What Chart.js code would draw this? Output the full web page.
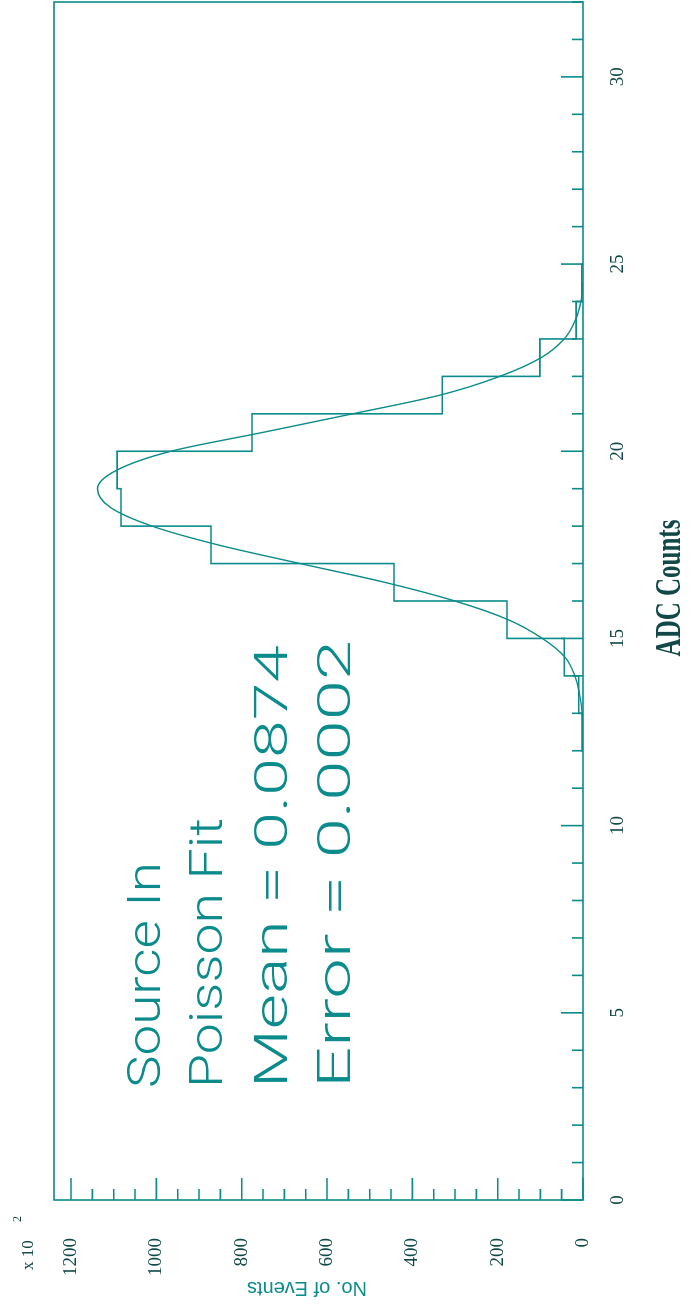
<!DOCTYPE html>
<html>
<head>
<meta charset="utf-8">
<script src="https://cdn.jsdelivr.net/npm/chart.js@4"></script>
<style>
html, body { margin: 0; padding: 0; background: #fff; width: 691px; height: 1310px; overflow: hidden; }
/* the chart is drawn lying on its side, as in the scan */
#wrap { position: absolute; left: 0; top: 0; width: 1310px; height: 691px;
        transform-origin: 0 0; transform: translate(0, 1310px) rotate(-90deg); }
</style>
</head>
<body>
<div id="wrap"><canvas id="myChart" width="1310" height="691"></canvas></div>
<script>
// histogram: left bin edges (last value closes the last bin) and counts
var binEdges = [12, 13, 14, 15, 16, 17, 18, 19, 20, 21, 22, 23, 24, 25];
var binCounts = [2, 10, 44, 178, 443, 872, 1083, 1092, 776, 330, 101, 16, 3];

// fitted curve
var fitX = [12.5, 13, 13.5, 14, 14.5, 15, 15.5, 16, 16.5, 17, 17.5, 18, 18.5, 19, 19.5, 20, 20.5, 21, 21.5, 22, 22.5, 23, 23.5, 24, 24.5];
var fitY = [0, 2, 8, 19, 42, 95, 175, 300, 465, 663, 856, 1010, 1108, 1138, 1092, 966, 752, 540, 335, 195, 98, 44, 18, 5, 1];

var xTickLabels = ['0', '5', '10', '15', '20', '25', '30'];
var yTickLabels = ['0', '200', '400', '600', '800', '1000', '1200'];
var notes = ['Source In', 'Poisson Fit', 'Mean = 0.0874', 'Error = 0.0002'];

var ink = '#0b8b8b';
var dark = '#124848';

var histPts = [{x: binEdges[0], y: 0}];
for (var i = 0; i < binCounts.length; i++) {
    histPts.push({x: binEdges[i], y: binCounts[i]});
}
histPts.push({x: binEdges[binEdges.length - 1], y: 0});

var fitPts = [];
for (var j = 0; j < fitX.length; j++) {
    fitPts.push({x: fitX[j], y: fitY[j]});
}

// frame, inward ticks and the loose texts
var extras = {
    id: 'extras',
    afterDraw: function(chart) {
        var c = chart.ctx, a = chart.chartArea;
        var xs = chart.scales.x, ys = chart.scales.y;
        c.save();
        c.strokeStyle = ink;
        c.lineWidth = 1.6;
        c.strokeRect(a.left, a.top, a.right - a.left, a.bottom - a.top);
        c.beginPath();
        xs.ticks.forEach(function(t) {
            var px = xs.getPixelForValue(t.value);
            var len = (t.value % 5 === 0) ? 22 : 11;
            c.moveTo(px, a.bottom);
            c.lineTo(px, a.bottom - len);
        });
        ys.ticks.forEach(function(t) {
            var py = ys.getPixelForValue(t.value);
            var len = (t.value % 200 === 0) ? 22 : 11;
            c.moveTo(a.left, py);
            c.lineTo(a.left + len, py);
        });
        c.stroke();

        // notes
        c.fillStyle = ink;
        c.font = '300 46px Roboto, Lato, sans-serif';
        c.textBaseline = 'alphabetic';
        var base = [160, 222, 287, 350];
        var wide = [226, 270, 443, 448];
        notes.forEach(function(s, k) {
            c.save();
            c.translate(222, base[k]);
            c.scale(wide[k] / c.measureText(s).width, 1);
            c.fillText(s, 0, 0);
            c.restore();
        });

        // axis titles
        c.fillStyle = dark;
        c.font = 'bold 25px "Liberation Serif"';
        c.textAlign = 'center';
        c.save();
        c.translate(722, 680);
        c.scale(1, 1.45);
        c.fillText('ADC Counts', 0, 0);
        c.restore();

        c.fillStyle = ink;
        c.font = '20px "Liberation Sans"';
        c.textBaseline = 'middle';
        c.save();
        c.translate(22, 307);
        c.rotate(-Math.PI / 2);
        c.fillText('No. of Events', 0, 0);
        c.restore();

        // multiplier
        c.fillStyle = dark;
        c.textAlign = 'left';
        c.textBaseline = 'alphabetic';
        c.font = '17px "Liberation Serif"';
        c.fillText('x 10', 40, 33);
        c.font = '12px "Liberation Serif"';
        c.fillText('2', 88, 21);
        c.restore();
    }
};

var ctx = document.getElementById('myChart').getContext('2d');
var myChart = new Chart(ctx, {
    type: 'line',
    data: {
        datasets: [{
            label: 'counts',
            data: histPts,
            stepped: 'before',
            borderColor: ink,
            borderWidth: 1.6,
            pointRadius: 0,
            fill: false
        }, {
            label: 'fit',
            data: fitPts,
            cubicInterpolationMode: 'monotone',
            borderColor: ink,
            borderWidth: 1.4,
            pointRadius: 0,
            fill: false
        }]
    },
    options: {
        responsive: false,
        animation: false,
        layout: { padding: { top: 54, right: 2 } },
        plugins: { legend: { display: false }, tooltip: { enabled: false } },
        scales: {
            x: {
                type: 'linear',
                min: 0,
                max: 32,
                grid: { display: true, drawOnChartArea: false, color: 'rgba(0,0,0,0)', tickLength: 24 },
                border: { display: false },
                ticks: {
                    stepSize: 1,
                    autoSkip: false,
                    maxRotation: 0,
                    padding: 0,
                    color: dark,
                    font: { family: '"Liberation Serif"', size: 19 },
                    callback: function(v) { return xTickLabels.indexOf(String(v)) >= 0 ? String(v) : ''; }
                },
                afterFit: function(s) { s.height = 108; }
            },
            y: {
                min: 0,
                max: 1240,
                grid: { display: false },
                border: { display: false },
                ticks: {
                    stepSize: 50,
                    includeBounds: false,
                    autoSkip: false,
                    padding: 30,
                    color: dark,
                    font: { family: '"Liberation Serif"', size: 19 },
                    callback: function(v) { return yTickLabels.indexOf(String(v)) >= 0 ? String(v) : ''; }
                },
                afterFit: function(s) { s.width = 110; }
            }
        }
    },
    plugins: [extras]
});
</script>
</body>
</html>
